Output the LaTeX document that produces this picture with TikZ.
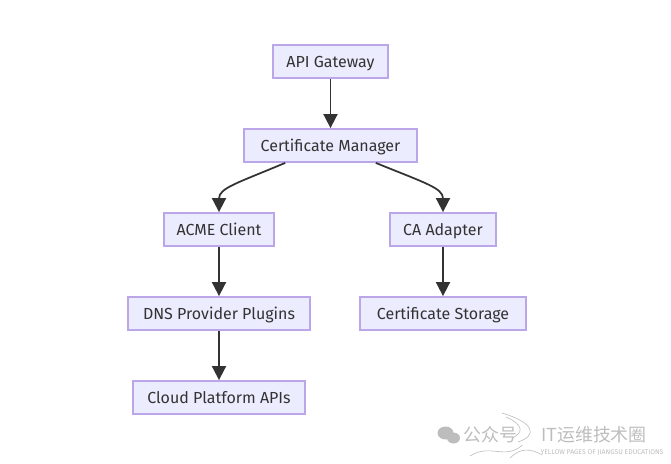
\documentclass[tikz,border=0pt]{standalone}
\usepackage{fontspec}
\setmainfont{Fira Sans}
\newfontfamily\cjkfont{Noto Sans CJK SC}
\usepackage{tikz}
\usetikzlibrary{arrows.meta}
\definecolor{boxfill}{HTML}{ECECFF}
\definecolor{boxline}{HTML}{BBA6EA}
\definecolor{inkgray}{HTML}{333333}
\definecolor{markgray}{HTML}{BDBDBD}
\tikzset{
        flowbox/.style={rectangle,draw=boxline,fill=boxfill,line width=1.3pt,text=inkgray,font=\fontsize{9.1}{11}\selectfont,minimum height=.65cm,inner ysep=0pt,text height=8pt,text depth=1.2pt},
        flowline/.style={color=inkgray,line width=1pt,-{Triangle[length=8pt,width=8pt]}},
        markline/.style={color=markgray,line width=.35pt},
        marktext/.style={text=markgray,font=\cjkfont\fontsize{10.2}{12}\selectfont}
    }

\begin{document}
\begin{tikzpicture}[scale=1]

\useasboundingbox (0,0) rectangle (13.42,9.26);

\draw (6.61,8.03) node(API)[flowbox,minimum width=2.29cm]{API Gateway};
\draw (6.61,6.35) node(MANAGER)[flowbox,minimum width=3.45cm]{Certificate Manager};
\draw (4.38,4.67) node(ACME)[flowbox,minimum width=2.19cm]{ACME Client};
\draw (8.86,4.67) node(ADAPTER)[flowbox,minimum width=2.11cm]{CA Adapter};
\draw (4.38,2.99) node(DNS)[flowbox,minimum width=3.63cm]{DNS Provider Plugins};
\draw (8.86,2.99) node(STORE)[flowbox,minimum width=3.31cm]{Certificate Storage};
\draw (4.38,1.31) node(CLOUD)[flowbox,minimum width=3.45cm]{Cloud Platform APIs};

\draw[flowline] (API) -- (MANAGER);
\draw[flowline] (MANAGER.201) .. controls (4.75,5.6) and (4.38,5.5) .. (ACME.north);
\draw[flowline] (MANAGER.339) .. controls (8.5,5.6) and (8.86,5.5) .. (ADAPTER.north);
\draw[flowline] (ACME) -- (DNS);
\draw[flowline] (DNS) -- (CLOUD);
\draw[flowline] (ADAPTER) -- (STORE);

% faint mark in the lower right corner
\fill[markgray] (8.91,.6) ellipse (.16 and .13);
\fill[markgray] (9.07,.5) ellipse (.13 and .11);
\draw (9.81,.56) node(MARKA)[marktext]{公众号};
\draw (11.88,.56) node(MARKB)[marktext]{IT运维技术圈};
\draw (12.04,.2) node(MARKC)[text=markgray,font=\fontsize{3.9}{5}\selectfont]{YELLOW PAGES OF JIANGSU EDUCATIONS};
\draw[markline] (10.04,1.0) .. controls (10.7,.8) and (10.75,.55) .. (10.36,.42);
\draw[markline] (10.12,.92) .. controls (10.5,.75) and (10.45,.6) .. (10.25,.5);
\draw[markline] (9.4,.14) .. controls (9.8,.4) and (10.1,.05) .. (10.45,.36);
\draw[markline] (10.2,.1) .. controls (10.4,.3) and (10.6,.3) .. (10.85,.16);

\end{tikzpicture}
\end{document}
